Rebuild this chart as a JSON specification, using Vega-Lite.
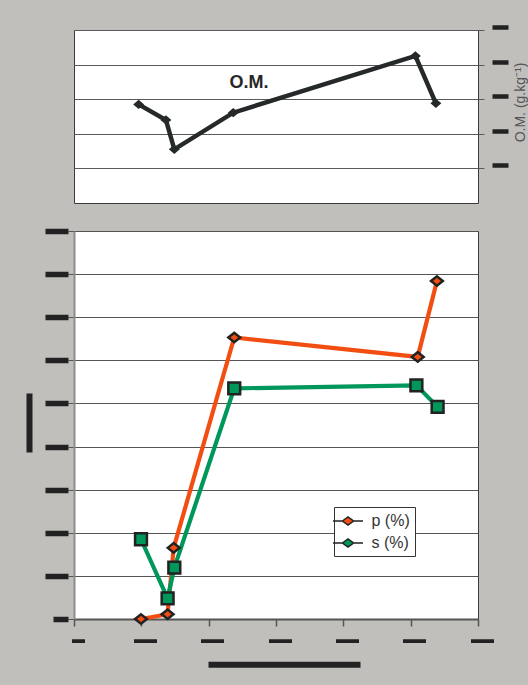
{
  "$schema": "https://vega.github.io/schema/vega-lite/v6.json",
  "background": "#c0bfbc",
  "padding": {"left": 25, "top": 24, "right": 0, "bottom": 19},
  "config": {
    "view": {"stroke": "#3a3a3a", "strokeWidth": 1, "fill": "white"},
    "font": "Liberation Sans"
  },
  "datasets": {
    "om": [
      {"x": 19.2, "om": 28.5},
      {"x": 27.3, "om": 24.0},
      {"x": 29.8, "om": 15.5},
      {"x": 47.3, "om": 26.1},
      {"x": 101.4, "om": 42.5},
      {"x": 107.5, "om": 28.8}
    ],
    "ps": [
      {"series": "p (%)", "x": 19.9, "y": 0},
      {"series": "p (%)", "x": 27.8, "y": 1.1},
      {"series": "p (%)", "x": 29.6, "y": 16.5},
      {"series": "p (%)", "x": 47.6, "y": 65.3},
      {"series": "p (%)", "x": 102.1, "y": 60.8},
      {"series": "p (%)", "x": 107.8, "y": 78.4},
      {"series": "s (%)", "x": 19.9, "y": 18.5},
      {"series": "s (%)", "x": 27.8, "y": 4.8},
      {"series": "s (%)", "x": 29.8, "y": 11.9},
      {"series": "s (%)", "x": 47.6, "y": 53.5},
      {"series": "s (%)", "x": 101.7, "y": 54.2},
      {"series": "s (%)", "x": 108.0, "y": 49.2}
    ]
  },
  "bounds": "flush",
  "spacing": 28,
  "vconcat": [
    {
      "width": 404,
      "height": 173,
      "data": {"name": "om"},
      "layer": [
        {
          "mark": {"type": "line", "color": "#25292a", "strokeWidth": 4.5},
          "encoding": {
            "x": {"field": "x", "type": "quantitative", "scale": {"domain": [0, 120], "nice": false}, "axis": null},
            "y": {
              "field": "om", "type": "quantitative",
              "scale": {"domain": [0, 50], "nice": false},
              "axis": {
                "orient": "right", "values": [10, 20, 30, 40, 50], "labels": false,
                "grid": true, "gridColor": "#5a5a5a", "gridWidth": 1,
                "domain": false, "ticks": true, "tickSize": 6, "tickColor": "#5a5a5a", "tickWidth": 1,
                "title": "O.M. (g.kg⁻¹)", "titleAngle": 270, "titleX": 42, "titleY": 72,
                "titleAlign": "center", "titleBaseline": "middle",
                "titleFont": "Liberation Sans", "titleFontSize": 14, "titleFontWeight": "normal", "titleColor": "#555555"
              }
            }
          }
        },
        {
          "mark": {"type": "point", "shape": "M-1,0L0,-0.85L1,0L0,0.85Z", "filled": true, "color": "#25292a", "size": 120, "opacity": 1},
          "encoding": {
            "x": {"field": "x", "type": "quantitative", "axis": null},
            "y": {
              "field": "om", "type": "quantitative",
              "axis": {
                "orient": "right", "offset": 14, "values": [10, 20, 30, 40, 50],
                "labels": false, "title": null, "grid": false, "domain": false,
                "ticks": true, "tickColor": "#222222", "tickSize": 16, "tickWidth": 4.5, "tickOffset": -3
              }
            }
          }
        },
        {
          "data": {"values": [{"label": "O.M."}]},
          "mark": {"type": "text", "fontSize": 18, "fontWeight": "bold", "color": "#262626", "align": "center", "baseline": "middle"},
          "encoding": {
            "text": {"field": "label"},
            "x": {"datum": 52, "type": "quantitative", "axis": null},
            "y": {"datum": 34.6, "type": "quantitative", "axis": null}
          }
        }
      ],
      "resolve": {"axis": {"y": "independent"}}
    },
    {
      "width": 404,
      "height": 388,
      "data": {"name": "ps"},
      "layer": [
        {
          "mark": {"type": "line", "strokeWidth": 4.2},
          "encoding": {
            "x": {
              "field": "x", "type": "quantitative",
              "scale": {"domain": [0, 120], "nice": false},
              "axis": {
                "orient": "bottom", "values": [0, 20, 40, 60, 80, 100, 120],
                "labels": false, "title": null, "grid": false,
                "domain": true, "domainColor": "#555555", "domainWidth": 2,
                "ticks": true, "tickSize": 7, "tickColor": "#555555", "tickWidth": 1.5
              }
            },
            "y": {
              "field": "y", "type": "quantitative",
              "scale": {"domain": [0, 90], "nice": false},
              "axis": {
                "orient": "left", "values": [0, 10, 20, 30, 40, 50, 60, 70, 80, 90],
                "labels": false, "title": null,
                "grid": true, "gridColor": "#555555", "gridWidth": 1,
                "domain": true, "domainColor": "#8c8c8c", "domainWidth": 2,
                "ticks": true, "tickSize": 6, "tickColor": "#555555", "tickWidth": 1
              }
            },
            "detail": {"field": "series", "type": "nominal"},
            "color": {
              "condition": {"test": "datum.series === 'p (%)'", "value": "#f24e12"},
              "value": "#00975a"
            }
          }
        },
        {
          "mark": {"type": "point", "filled": true, "stroke": "#222222", "strokeWidth": 2.5, "size": 140, "opacity": 1},
          "encoding": {
            "x": {
              "field": "x", "type": "quantitative",
              "axis": {
                "orient": "bottom", "offset": 45.3, "values": [0, 20, 40, 60, 80, 100, 120],
                "labels": false, "title": null, "grid": false,
                "domain": true, "domainColor": "#222222", "domainWidth": 6, "domainDash": [0, 134, 152, 1000],
                "ticks": true, "tickColor": "#222222", "tickSize": -25.55, "tickDash": [0, 21.85, 3.7, 100],
                "tickWidth": {"condition": {"test": "datum.value === 0", "value": 13}, "value": 23},
                "tickOffset": 3.5
              }
            },
            "y": {
              "field": "y", "type": "quantitative",
              "axis": {
                "orient": "left", "offset": 45, "values": [0, 10, 20, 30, 40, 50, 60, 70, 80, 90],
                "labels": false, "title": null, "grid": false,
                "domain": true, "domainColor": "#222222", "domainWidth": 6, "domainDash": [0, 167, 59, 1000],
                "ticks": true, "tickColor": "#222222", "tickSize": -39, "tickWidth": 5.5,
                "tickDash": {"condition": {"test": "datum.value === 0", "value": [0, 24, 15, 100]}, "value": [0, 16, 23, 100]}
              }
            },
            "fill": {
              "field": "series", "type": "nominal",
              "scale": {"domain": ["p (%)", "s (%)"], "range": ["#f24e12", "#00975a"]},
              "legend": {
                "orient": "none", "legendX": 260, "legendY": 477, "title": null,
                "padding": 5, "rowPadding": 5, "strokeColor": "#333333", "fillColor": "white",
                "symbolType": "M-1.875,0H-0.7M0.7,0H1.875M-0.7,0L0,-0.5L0.7,0L0,0.5Z",
                "symbolSize": 256, "symbolStrokeColor": "#222222", "symbolStrokeWidth": 1.5,
                "labelOffset": 14.5, "labelFontSize": 16, "labelFont": "Liberation Sans", "labelColor": "#333333",
                "encode": {
                  "symbols": {
                    "stroke": {"value": "#222222"},
                    "strokeWidth": {"value": 1.5}
                  }
                }
              }
            },
            "shape": {
              "field": "series", "type": "nominal",
              "scale": {"domain": ["s (%)", "p (%)"], "range": ["square", "M-1,0L0,-0.8L1,0L0,0.8Z"]},
              "legend": null
            }
          }
        }
      ],
      "resolve": {"axis": {"x": "independent", "y": "independent"}}
    }
  ]
}
